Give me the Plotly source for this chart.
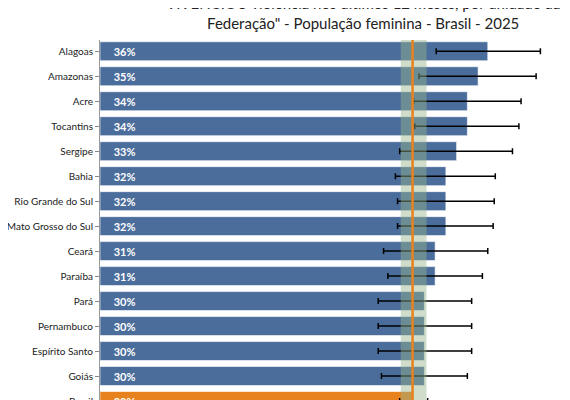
import plotly.graph_objects as go

states = ["Alagoas","Amazonas","Acre","Tocantins","Sergipe","Bahia","Rio Grande do Sul",
          "Mato Grosso do Sul","Ceará","Paraíba","Pará","Pernambuco","Espírito Santo","Goiás","Brasil"]
values = [36.1,35.2,34.2,34.2,33.2,32.2,32.2,32.2,31.2,31.2,30.2,30.2,30.2,30.2,29.1]
lower = [31.3,29.7,29.2,29.3,27.9,27.5,27.7,27.7,26.4,26.8,25.9,25.9,25.9,26.2,27.9]
upper = [41.0,40.6,39.2,39.0,38.4,36.8,36.7,36.6,36.1,35.6,34.6,34.6,34.6,34.2,30.5]
labels = ["36%","35%","34%","34%","33%","32%","32%","32%","31%","31%","30%","30%","30%","30%","29%"]
brasil_value = 29.1
brasil_ci = [28.0, 30.4]

ypos = list(range(len(states)))
colors = ["#4b6d9c"]*(len(states)-1) + ["#e8821e"]

fig = go.Figure()
fig.add_trace(go.Bar(
    x=values, y=ypos, orientation="h", width=0.76,
    marker=dict(color=colors, line=dict(color="rgba(255,255,255,0.6)", width=1)),
    text=["    " + t for t in labels], textposition="inside", insidetextanchor="start",
    textfont=dict(color="white", size=11, family="Lato", weight="bold"),
    error_x=dict(type="data", symmetric=False,
                 array=[u-v for u, v in zip(upper, values)],
                 arrayminus=[v-l for v, l in zip(values, lower)],
                 color="black", thickness=1.5, width=3),
    showlegend=False, cliponaxis=False,
))
fig.add_shape(type="rect", xref="x", yref="paper", x0=brasil_ci[0], x1=brasil_ci[1], y0=0, y1=1,
              fillcolor="rgba(150,180,140,0.45)", line_width=0, layer="above")
fig.add_shape(type="line", xref="x", yref="paper", x0=brasil_value, x1=brasil_value, y0=0, y1=1,
              line=dict(color="#e8821e", width=2.5), layer="above")

fig.add_annotation(text="VIVENCIOU violência nos últimos 12 meses, por unidade da<br>Federação\" - População feminina - Brasil - 2025",
                   xref="paper", yref="paper", x=0.55, y=1.0, yshift=6, yanchor="bottom",
                   showarrow=False, font=dict(size=15, family="Lato", color="#222"))

fig.update_layout(
    width=570, height=400, margin=dict(l=92, r=0, t=32, b=0),
    plot_bgcolor="white", paper_bgcolor="white",
    xaxis=dict(range=[0, 44.5], visible=False, automargin=False),
    yaxis=dict(range=[14.28, -0.45], tickvals=ypos, ticktext=states, ticks="outside",
               ticklen=4, tickcolor="#888", showline=True, linecolor="#999", showgrid=False,
               zeroline=False, automargin=False, tickfont=dict(size=10, family="Lato", color="#222")),
)
fig.write_html("out.html")
